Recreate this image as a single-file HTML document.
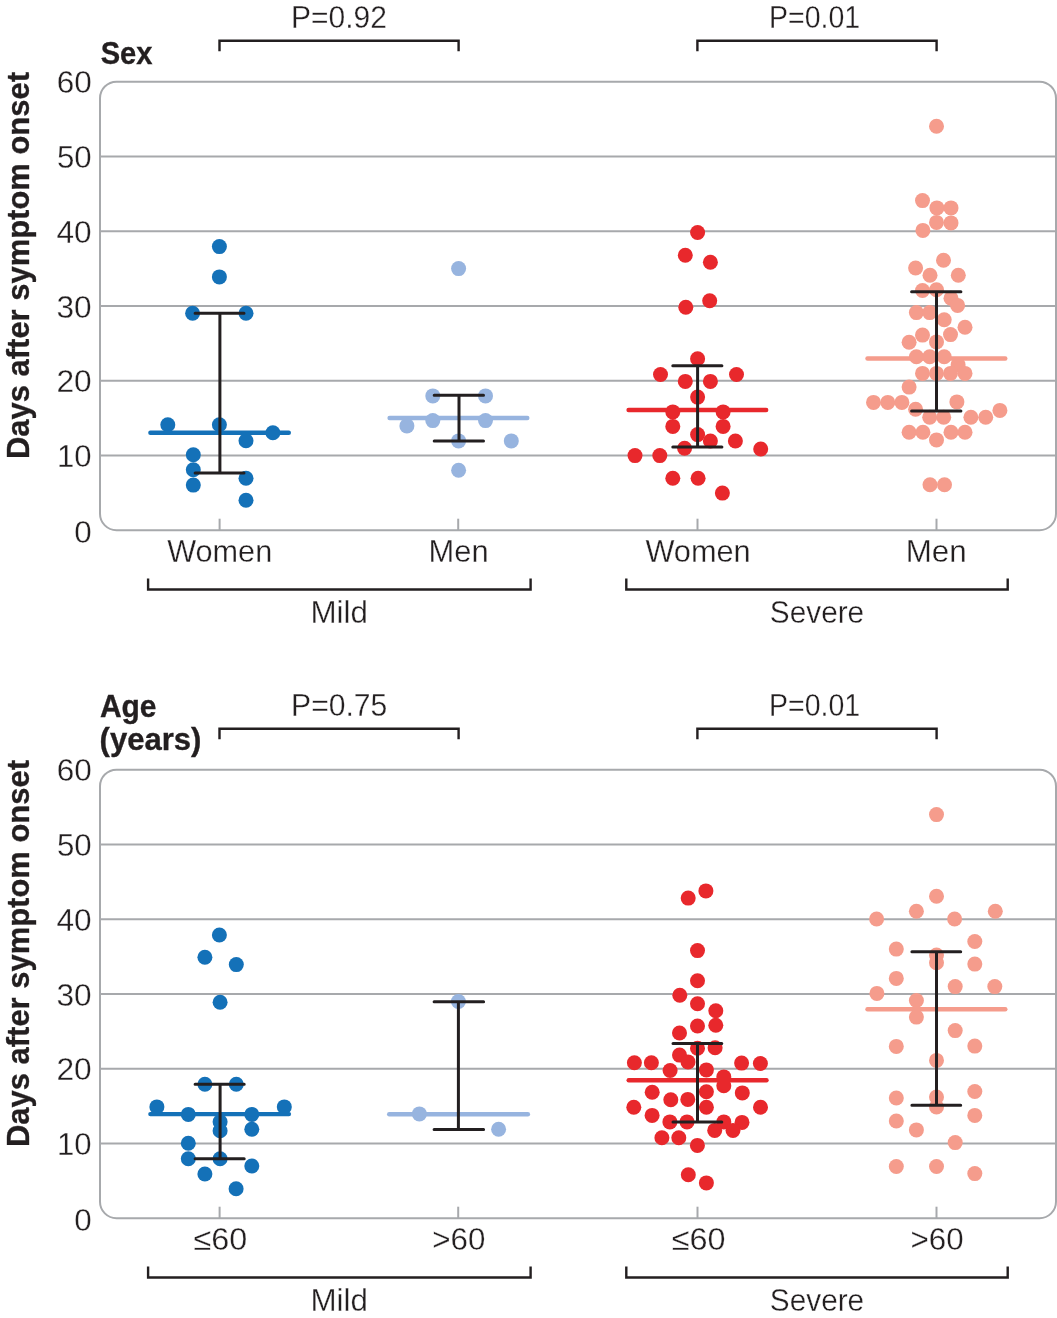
<!DOCTYPE html><html><head><meta charset="utf-8"><title>Chart</title><style>
html,body{margin:0;padding:0;background:#fff}svg{display:block;will-change:transform}
text{font-family:"Liberation Sans",sans-serif;fill:#231f20}
.t{font-size:31.5px;stroke:#fff;stroke-width:0.3px}.b{font-size:31.5px;font-weight:bold;stroke:#231f20;stroke-width:0.35px}
</style></head><body>
<svg width="1057" height="1318" viewBox="0 0 1057 1318">
<rect width="1057" height="1318" fill="#fff"/>
<line x1="100.0" y1="156.5" x2="1056.0" y2="156.5" stroke="#a7a9ac" stroke-width="2"/>
<line x1="100.0" y1="231.2" x2="1056.0" y2="231.2" stroke="#a7a9ac" stroke-width="2"/>
<line x1="100.0" y1="306.0" x2="1056.0" y2="306.0" stroke="#a7a9ac" stroke-width="2"/>
<line x1="100.0" y1="380.7" x2="1056.0" y2="380.7" stroke="#a7a9ac" stroke-width="2"/>
<line x1="100.0" y1="455.5" x2="1056.0" y2="455.5" stroke="#a7a9ac" stroke-width="2"/>
<line x1="219.6" y1="518.7" x2="219.6" y2="530.2" stroke="#a7a9ac" stroke-width="2"/>
<line x1="458.2" y1="518.7" x2="458.2" y2="530.2" stroke="#a7a9ac" stroke-width="2"/>
<line x1="697.5" y1="518.7" x2="697.5" y2="530.2" stroke="#a7a9ac" stroke-width="2"/>
<line x1="936.5" y1="518.7" x2="936.5" y2="530.2" stroke="#a7a9ac" stroke-width="2"/>
<rect x="100.0" y="81.7" width="956.0" height="448.5" rx="16.5" ry="16.5" fill="none" stroke="#a7a9ac" stroke-width="2"/>
<text class="t" transform="translate(56.72,93.30) scale(1.0007,1)">60</text>
<text class="t" transform="translate(56.92,168.05) scale(0.9919,1)">50</text>
<text class="t" transform="translate(56.51,242.80) scale(1.0041,1)">40</text>
<text class="t" transform="translate(56.51,317.55) scale(1.0039,1)">30</text>
<text class="t" transform="translate(56.41,392.30) scale(1.0068,1)">20</text>
<text class="t" transform="translate(57.05,467.05) scale(0.9881,1)">10</text>
<text class="t" transform="translate(74.22,542.60) scale(0.9968,1)">0</text>
<text class="b" transform="translate(28.60,459.04) rotate(-90) scale(0.9833,1)">Days after symptom onset</text>
<text class="t" transform="translate(167.20,561.80) scale(0.9728,1)">Women</text>
<text class="t" transform="translate(428.48,561.80) scale(0.9816,1)">Men</text>
<text class="t" transform="translate(645.40,561.80) scale(0.9756,1)">Women</text>
<text class="t" transform="translate(905.75,561.80) scale(0.9957,1)">Men</text>
<path d="M148.1 578.5 V589.5 H530.6 V578.5" fill="none" stroke="#231f20" stroke-width="2.4"/>
<text class="t" transform="translate(310.45,622.90) scale(0.9958,1)">Mild</text>
<path d="M626.3 578.5 V589.5 H1007.7 V578.5" fill="none" stroke="#231f20" stroke-width="2.4"/>
<text class="t" transform="translate(769.87,622.70) scale(0.9452,1)">Severe</text>
<path d="M219.5 51.3 V40.8 H458.6 V51.3" fill="none" stroke="#231f20" stroke-width="2.4"/>
<text class="t" transform="translate(291.06,27.80) scale(0.9528,1)">P=0.92</text>
<path d="M697.4 51.3 V40.8 H936.6 V51.3" fill="none" stroke="#231f20" stroke-width="2.4"/>
<text class="t" transform="translate(769.07,27.80) scale(0.9054,1)">P=0.01</text>
<text class="b" transform="translate(100.64,64.00) scale(0.9255,1)">Sex</text>
<line x1="100.0" y1="844.5" x2="1056.0" y2="844.5" stroke="#a7a9ac" stroke-width="2"/>
<line x1="100.0" y1="919.2" x2="1056.0" y2="919.2" stroke="#a7a9ac" stroke-width="2"/>
<line x1="100.0" y1="994.0" x2="1056.0" y2="994.0" stroke="#a7a9ac" stroke-width="2"/>
<line x1="100.0" y1="1068.7" x2="1056.0" y2="1068.7" stroke="#a7a9ac" stroke-width="2"/>
<line x1="100.0" y1="1143.5" x2="1056.0" y2="1143.5" stroke="#a7a9ac" stroke-width="2"/>
<line x1="219.6" y1="1206.7" x2="219.6" y2="1218.2" stroke="#a7a9ac" stroke-width="2"/>
<line x1="458.2" y1="1206.7" x2="458.2" y2="1218.2" stroke="#a7a9ac" stroke-width="2"/>
<line x1="697.5" y1="1206.7" x2="697.5" y2="1218.2" stroke="#a7a9ac" stroke-width="2"/>
<line x1="936.5" y1="1206.7" x2="936.5" y2="1218.2" stroke="#a7a9ac" stroke-width="2"/>
<rect x="100.0" y="769.7" width="956.0" height="448.5" rx="16.5" ry="16.5" fill="none" stroke="#a7a9ac" stroke-width="2"/>
<text class="t" transform="translate(56.72,781.30) scale(1.0007,1)">60</text>
<text class="t" transform="translate(56.92,856.05) scale(0.9919,1)">50</text>
<text class="t" transform="translate(56.51,930.80) scale(1.0041,1)">40</text>
<text class="t" transform="translate(56.51,1005.55) scale(1.0039,1)">30</text>
<text class="t" transform="translate(56.41,1080.30) scale(1.0068,1)">20</text>
<text class="t" transform="translate(57.05,1155.05) scale(0.9881,1)">10</text>
<text class="t" transform="translate(74.22,1230.60) scale(0.9968,1)">0</text>
<text class="b" transform="translate(28.60,1147.04) rotate(-90) scale(0.9833,1)">Days after symptom onset</text>
<text class="t" transform="translate(193.59,1249.80) scale(1.0284,1)">≤60</text>
<text class="t" transform="translate(432.23,1249.80) scale(0.9947,1)">&gt;60</text>
<text class="t" transform="translate(671.79,1249.80) scale(1.0284,1)">≤60</text>
<text class="t" transform="translate(910.43,1249.80) scale(0.9947,1)">&gt;60</text>
<path d="M148.1 1266.5 V1277.5 H530.6 V1266.5" fill="none" stroke="#231f20" stroke-width="2.4"/>
<text class="t" transform="translate(310.45,1310.90) scale(0.9958,1)">Mild</text>
<path d="M626.3 1266.5 V1277.5 H1007.7 V1266.5" fill="none" stroke="#231f20" stroke-width="2.4"/>
<text class="t" transform="translate(769.87,1310.70) scale(0.9452,1)">Severe</text>
<path d="M219.5 739.3 V728.8 H458.6 V739.3" fill="none" stroke="#231f20" stroke-width="2.4"/>
<text class="t" transform="translate(291.05,715.80) scale(0.9569,1)">P=0.75</text>
<path d="M697.4 739.3 V728.8 H936.6 V739.3" fill="none" stroke="#231f20" stroke-width="2.4"/>
<text class="t" transform="translate(769.07,715.80) scale(0.9054,1)">P=0.01</text>
<text class="b" transform="translate(99.93,717.30) scale(0.9514,1)">Age</text>
<text class="b" transform="translate(99.54,750.30) scale(0.9861,1)">(years)</text>
<g fill="#1471b8"><circle cx="219.4" cy="246.6" r="7.5"/><circle cx="219.4" cy="276.9" r="7.5"/><circle cx="192.6" cy="313.3" r="7.5"/><circle cx="246.0" cy="313.3" r="7.5"/><circle cx="167.8" cy="424.8" r="7.5"/><circle cx="219.4" cy="424.8" r="7.5"/><circle cx="272.9" cy="432.7" r="7.5"/><circle cx="246.0" cy="440.7" r="7.5"/><circle cx="193.3" cy="454.8" r="7.5"/><circle cx="193.3" cy="469.8" r="7.5"/><circle cx="193.3" cy="485.1" r="7.5"/><circle cx="246.0" cy="478.2" r="7.5"/><circle cx="246.0" cy="500.3" r="7.5"/></g>
<g fill="#97b4df"><circle cx="458.6" cy="268.6" r="7.5"/><circle cx="432.8" cy="395.9" r="7.5"/><circle cx="485.5" cy="395.9" r="7.5"/><circle cx="432.8" cy="420.6" r="7.5"/><circle cx="485.5" cy="420.6" r="7.5"/><circle cx="406.9" cy="425.9" r="7.5"/><circle cx="458.6" cy="440.9" r="7.5"/><circle cx="511.3" cy="440.9" r="7.5"/><circle cx="458.6" cy="470.3" r="7.5"/></g>
<g fill="#e8282c"><circle cx="697.6" cy="232.5" r="7.5"/><circle cx="685.3" cy="255.3" r="7.5"/><circle cx="710.4" cy="262.3" r="7.5"/><circle cx="709.7" cy="300.8" r="7.5"/><circle cx="685.8" cy="307.2" r="7.5"/><circle cx="697.6" cy="358.8" r="7.5"/><circle cx="660.5" cy="374.5" r="7.5"/><circle cx="736.5" cy="374.5" r="7.5"/><circle cx="685.3" cy="381.4" r="7.5"/><circle cx="710.4" cy="381.4" r="7.5"/><circle cx="697.6" cy="397.1" r="7.5"/><circle cx="672.8" cy="411.9" r="7.5"/><circle cx="723.1" cy="411.9" r="7.5"/><circle cx="672.8" cy="426.4" r="7.5"/><circle cx="723.1" cy="426.4" r="7.5"/><circle cx="697.6" cy="434.6" r="7.5"/><circle cx="710.4" cy="441.0" r="7.5"/><circle cx="735.4" cy="441.0" r="7.5"/><circle cx="684.6" cy="448.3" r="7.5"/><circle cx="760.7" cy="449.0" r="7.5"/><circle cx="635.0" cy="455.6" r="7.5"/><circle cx="659.8" cy="455.6" r="7.5"/><circle cx="672.8" cy="478.3" r="7.5"/><circle cx="698.1" cy="478.3" r="7.5"/><circle cx="722.4" cy="493.1" r="7.5"/></g>
<g fill="#f59c8c"><circle cx="936.5" cy="126.3" r="7.5"/><circle cx="922.5" cy="200.6" r="7.5"/><circle cx="936.9" cy="207.9" r="7.5"/><circle cx="951.0" cy="207.9" r="7.5"/><circle cx="936.5" cy="222.4" r="7.5"/><circle cx="951.0" cy="222.9" r="7.5"/><circle cx="922.9" cy="230.4" r="7.5"/><circle cx="943.5" cy="260.2" r="7.5"/><circle cx="915.6" cy="268.0" r="7.5"/><circle cx="930.0" cy="275.2" r="7.5"/><circle cx="958.3" cy="275.2" r="7.5"/><circle cx="922.5" cy="290.5" r="7.5"/><circle cx="936.5" cy="289.7" r="7.5"/><circle cx="951.0" cy="298.2" r="7.5"/><circle cx="957.6" cy="305.4" r="7.5"/><circle cx="916.4" cy="312.6" r="7.5"/><circle cx="929.7" cy="312.6" r="7.5"/><circle cx="944.2" cy="319.8" r="7.5"/><circle cx="965.0" cy="327.3" r="7.5"/><circle cx="922.5" cy="335.1" r="7.5"/><circle cx="950.5" cy="334.6" r="7.5"/><circle cx="909.1" cy="342.3" r="7.5"/><circle cx="936.5" cy="341.9" r="7.5"/><circle cx="916.4" cy="356.8" r="7.5"/><circle cx="929.7" cy="356.8" r="7.5"/><circle cx="944.2" cy="356.8" r="7.5"/><circle cx="958.1" cy="364.9" r="7.5"/><circle cx="922.5" cy="373.4" r="7.5"/><circle cx="936.5" cy="373.4" r="7.5"/><circle cx="950.5" cy="373.4" r="7.5"/><circle cx="965.0" cy="373.4" r="7.5"/><circle cx="909.1" cy="387.1" r="7.5"/><circle cx="873.5" cy="402.4" r="7.5"/><circle cx="887.8" cy="402.4" r="7.5"/><circle cx="901.9" cy="402.4" r="7.5"/><circle cx="956.9" cy="401.9" r="7.5"/><circle cx="915.6" cy="409.2" r="7.5"/><circle cx="999.9" cy="410.4" r="7.5"/><circle cx="929.7" cy="417.2" r="7.5"/><circle cx="943.7" cy="417.2" r="7.5"/><circle cx="970.9" cy="417.2" r="7.5"/><circle cx="985.7" cy="417.2" r="7.5"/><circle cx="909.1" cy="432.2" r="7.5"/><circle cx="922.9" cy="432.2" r="7.5"/><circle cx="951.0" cy="432.2" r="7.5"/><circle cx="965.0" cy="432.2" r="7.5"/><circle cx="936.5" cy="439.9" r="7.5"/><circle cx="930.0" cy="484.7" r="7.5"/><circle cx="944.5" cy="484.7" r="7.5"/></g>
<g fill="#1471b8"><circle cx="219.4" cy="935.0" r="7.5"/><circle cx="204.9" cy="957.3" r="7.5"/><circle cx="236.3" cy="964.6" r="7.5"/><circle cx="220.1" cy="1002.2" r="7.5"/><circle cx="204.9" cy="1084.3" r="7.5"/><circle cx="236.3" cy="1084.3" r="7.5"/><circle cx="156.9" cy="1106.9" r="7.5"/><circle cx="284.3" cy="1106.9" r="7.5"/><circle cx="188.3" cy="1114.4" r="7.5"/><circle cx="251.8" cy="1114.4" r="7.5"/><circle cx="220.1" cy="1121.7" r="7.5"/><circle cx="220.1" cy="1130.8" r="7.5"/><circle cx="251.8" cy="1129.2" r="7.5"/><circle cx="188.3" cy="1143.3" r="7.5"/><circle cx="188.3" cy="1158.8" r="7.5"/><circle cx="220.1" cy="1158.8" r="7.5"/><circle cx="251.8" cy="1166.0" r="7.5"/><circle cx="204.9" cy="1174.0" r="7.5"/><circle cx="236.1" cy="1188.8" r="7.5"/></g>
<g fill="#97b4df"><circle cx="458.4" cy="1001.5" r="7.5"/><circle cx="419.4" cy="1113.9" r="7.5"/><circle cx="498.6" cy="1129.2" r="7.5"/></g>
<g fill="#e8282c"><circle cx="705.9" cy="890.9" r="7.5"/><circle cx="688.2" cy="898.1" r="7.5"/><circle cx="697.5" cy="950.6" r="7.5"/><circle cx="697.5" cy="980.7" r="7.5"/><circle cx="679.8" cy="995.2" r="7.5"/><circle cx="697.5" cy="1003.7" r="7.5"/><circle cx="715.8" cy="1010.7" r="7.5"/><circle cx="697.5" cy="1026.0" r="7.5"/><circle cx="715.8" cy="1025.2" r="7.5"/><circle cx="679.5" cy="1033.0" r="7.5"/><circle cx="697.5" cy="1048.3" r="7.5"/><circle cx="715.1" cy="1047.8" r="7.5"/><circle cx="679.5" cy="1055.1" r="7.5"/><circle cx="688.0" cy="1061.9" r="7.5"/><circle cx="634.4" cy="1062.8" r="7.5"/><circle cx="651.4" cy="1062.8" r="7.5"/><circle cx="741.6" cy="1063.1" r="7.5"/><circle cx="760.4" cy="1063.5" r="7.5"/><circle cx="670.1" cy="1070.5" r="7.5"/><circle cx="706.4" cy="1069.9" r="7.5"/><circle cx="723.8" cy="1076.9" r="7.5"/><circle cx="723.8" cy="1085.8" r="7.5"/><circle cx="652.2" cy="1092.3" r="7.5"/><circle cx="706.4" cy="1091.7" r="7.5"/><circle cx="742.3" cy="1092.9" r="7.5"/><circle cx="670.8" cy="1099.7" r="7.5"/><circle cx="687.8" cy="1099.4" r="7.5"/><circle cx="633.8" cy="1107.2" r="7.5"/><circle cx="706.4" cy="1107.2" r="7.5"/><circle cx="760.5" cy="1107.2" r="7.5"/><circle cx="652.1" cy="1115.4" r="7.5"/><circle cx="669.9" cy="1121.9" r="7.5"/><circle cx="687.0" cy="1121.9" r="7.5"/><circle cx="723.8" cy="1121.9" r="7.5"/><circle cx="742.0" cy="1122.4" r="7.5"/><circle cx="714.7" cy="1130.4" r="7.5"/><circle cx="733.0" cy="1130.4" r="7.5"/><circle cx="661.9" cy="1137.7" r="7.5"/><circle cx="678.8" cy="1137.7" r="7.5"/><circle cx="697.4" cy="1145.4" r="7.5"/><circle cx="688.3" cy="1174.7" r="7.5"/><circle cx="706.4" cy="1182.9" r="7.5"/></g>
<g fill="#f59c8c"><circle cx="936.5" cy="814.6" r="7.5"/><circle cx="936.5" cy="896.3" r="7.5"/><circle cx="916.4" cy="911.3" r="7.5"/><circle cx="995.3" cy="911.3" r="7.5"/><circle cx="876.6" cy="919.0" r="7.5"/><circle cx="954.6" cy="919.0" r="7.5"/><circle cx="974.8" cy="941.5" r="7.5"/><circle cx="896.3" cy="949.1" r="7.5"/><circle cx="936.5" cy="955.1" r="7.5"/><circle cx="936.5" cy="962.7" r="7.5"/><circle cx="974.8" cy="964.1" r="7.5"/><circle cx="896.3" cy="978.4" r="7.5"/><circle cx="955.2" cy="986.6" r="7.5"/><circle cx="994.8" cy="986.6" r="7.5"/><circle cx="876.9" cy="993.4" r="7.5"/><circle cx="916.4" cy="1000.5" r="7.5"/><circle cx="916.4" cy="1017.1" r="7.5"/><circle cx="955.2" cy="1030.6" r="7.5"/><circle cx="896.3" cy="1046.4" r="7.5"/><circle cx="974.8" cy="1046.1" r="7.5"/><circle cx="936.5" cy="1060.4" r="7.5"/><circle cx="974.8" cy="1091.5" r="7.5"/><circle cx="896.3" cy="1098.0" r="7.5"/><circle cx="936.5" cy="1097.0" r="7.5"/><circle cx="936.5" cy="1106.9" r="7.5"/><circle cx="974.8" cy="1115.4" r="7.5"/><circle cx="896.3" cy="1121.0" r="7.5"/><circle cx="916.4" cy="1129.9" r="7.5"/><circle cx="955.2" cy="1142.6" r="7.5"/><circle cx="896.3" cy="1166.5" r="7.5"/><circle cx="936.5" cy="1166.5" r="7.5"/><circle cx="974.8" cy="1173.6" r="7.5"/></g>
<line x1="150.4" y1="432.7" x2="288.8" y2="432.7" stroke="#1471b8" stroke-width="4.4" stroke-linecap="round"/>
<line x1="389.6" y1="418.0" x2="527.3" y2="418.0" stroke="#97b4df" stroke-width="4.4" stroke-linecap="round"/>
<line x1="628.6" y1="410.0" x2="766.2" y2="410.0" stroke="#e8282c" stroke-width="4.4" stroke-linecap="round"/>
<line x1="867.5" y1="358.5" x2="1005.3" y2="358.5" stroke="#f59c8c" stroke-width="4.4" stroke-linecap="round"/>
<line x1="150.4" y1="1114.1" x2="288.9" y2="1114.1" stroke="#1471b8" stroke-width="4.4" stroke-linecap="round"/>
<line x1="389.2" y1="1114.2" x2="527.9" y2="1114.2" stroke="#97b4df" stroke-width="4.4" stroke-linecap="round"/>
<line x1="628.7" y1="1080.3" x2="766.5" y2="1080.3" stroke="#e8282c" stroke-width="4.4" stroke-linecap="round"/>
<line x1="867.5" y1="1009.3" x2="1005.3" y2="1009.3" stroke="#f59c8c" stroke-width="4.4" stroke-linecap="round"/>
<path d="M195.1 313.3 H244.0 M195.1 473.0 H244.0 M219.9 313.3 V473.0" fill="none" stroke="#231f20" stroke-width="3" stroke-linecap="round"/>
<path d="M434.2 395.3 H483.5 M434.2 440.9 H483.5 M459.0 395.3 V440.9" fill="none" stroke="#231f20" stroke-width="3" stroke-linecap="round"/>
<path d="M672.8 365.7 H721.9 M672.8 447.1 H721.9 M697.6 365.7 V447.1" fill="none" stroke="#231f20" stroke-width="3" stroke-linecap="round"/>
<path d="M911.6 291.7 H960.9 M911.6 411.1 H960.9 M936.5 291.7 V411.1" fill="none" stroke="#231f20" stroke-width="3" stroke-linecap="round"/>
<path d="M195.1 1084.3 H244.2 M195.1 1158.8 H244.2 M220.1 1084.3 V1158.8" fill="none" stroke="#231f20" stroke-width="3" stroke-linecap="round"/>
<path d="M434.1 1001.8 H483.6 M434.1 1129.4 H483.6 M458.4 1001.8 V1129.4" fill="none" stroke="#231f20" stroke-width="3" stroke-linecap="round"/>
<path d="M673.0 1043.4 H721.8 M673.0 1121.9 H721.8 M697.5 1043.4 V1121.9" fill="none" stroke="#231f20" stroke-width="3" stroke-linecap="round"/>
<path d="M911.9 951.7 H960.7 M911.9 1105.2 H960.7 M936.5 951.7 V1105.2" fill="none" stroke="#231f20" stroke-width="3" stroke-linecap="round"/>
</svg></body></html>
